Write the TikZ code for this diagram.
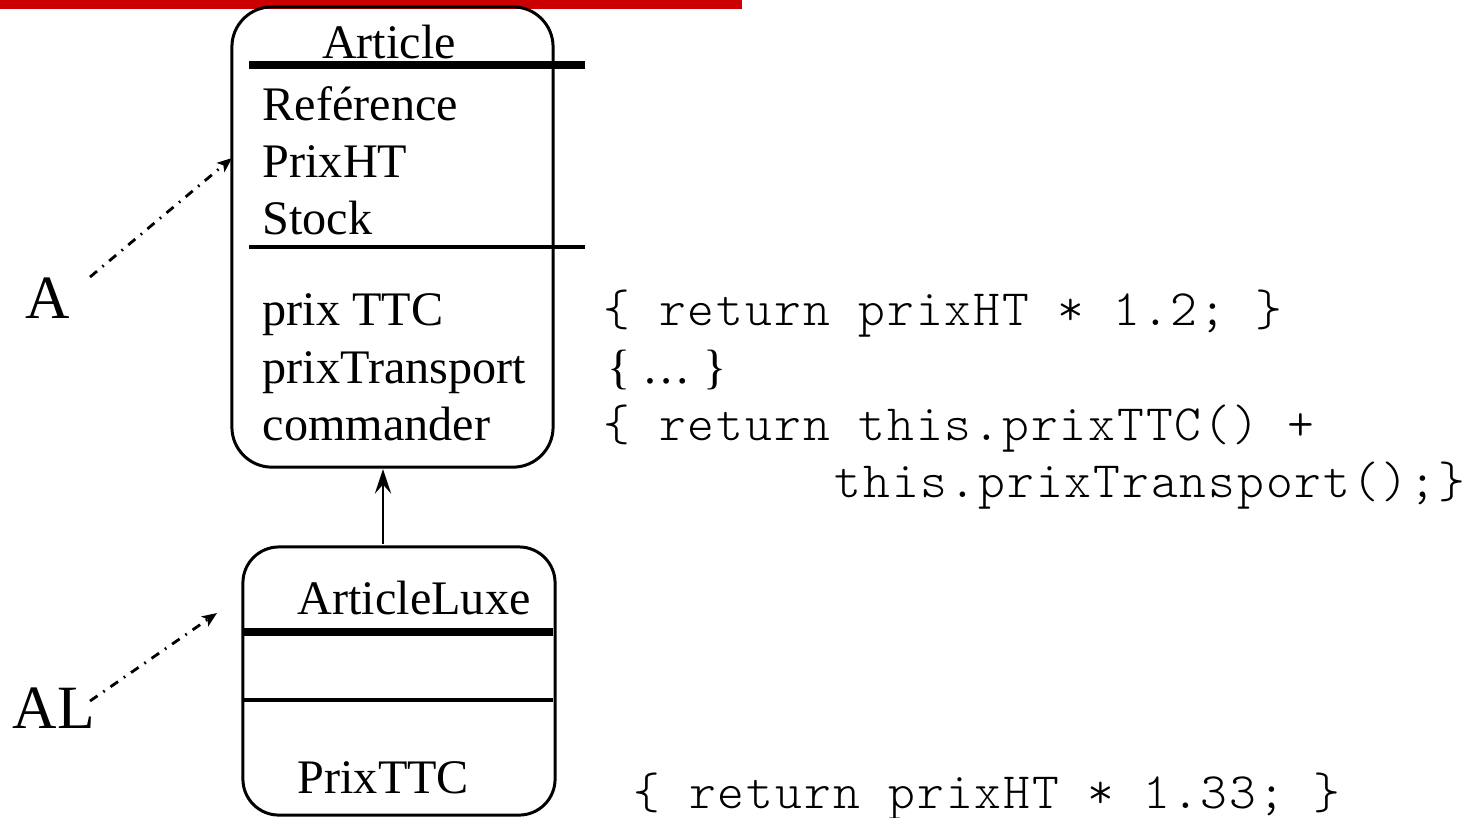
\documentclass[tikz,border=0pt]{standalone}
\usepackage{fontspec}
\setmainfont{Liberation Serif}
\newfontfamily\codefont[LetterSpace=3.9]{Latin Modern Mono Light}
\usetikzlibrary{arrows.meta}
\definecolor{barred}{HTML}{CC0000}
\begin{document}
\begin{tikzpicture}[x=0.01cm,y=-0.01cm,
  classbox/.style={draw, line width=0.85pt, inner sep=0pt},
  txt/.style={font=\fontsize{13.7}{16}\selectfont, anchor=base west, inner sep=0pt},
  code/.style={font=\fontsize{14.5}{17}\selectfont\codefont, anchor=base west, inner sep=0pt},
  biglabel/.style={font=\fontsize{17.5}{20}\selectfont, anchor=base west, inner sep=0pt},
  thicksep/.style={line width=2.5pt},
  thinsep/.style={line width=1.4pt},
  inherit/.style={line width=0.7pt, -{Stealth[length=7pt,width=4.6pt,inset=2.6pt]}},
  refarrow/.style={line width=0.8pt, dash pattern=on 2.6pt off 2pt on 0.5pt off 2pt,
                   -{Stealth[length=4.2pt,width=3.4pt,inset=1pt]}}]
\useasboundingbox (0,0) rectangle (1481,817);

% title bar
\fill[barred] (0,0) rectangle (742,9);

% class Article
\node[classbox, rounded corners=0.4cm, minimum width=3.21cm, minimum height=4.6cm]
  (article) at (392.5,237) {};
\draw[thicksep] (249,65) -- (585,65);
\draw[thinsep] (249,247) -- (585,247);
\node[txt, anchor=base] (artname) at (389,58) {Article};
\node[txt] (aref)   at (262,120) {Reférence};
\node[txt] (aprix)  at (262,177) {PrixHT};
\node[txt] (astock) at (262,234) {Stock};
\node[txt] (attc)   at (262,325) {prix TTC};
\node[txt] (atrans) at (262,383) {prixTransport};
\node[txt] (acmd)   at (262,440) {commander};

% method bodies of Article
\node[code] (bttc)   at (603,325) {\{ return prixHT * 1.2; \}};
\node[txt]  (btrans) at (607,383) {\{ … \}};
\node[code] (bcmd1)  at (603,440) {\{ return this.prixTTC() +};
\node[code] (bcmd2)  at (834,497) {this.prixTransport();\}};

% class ArticleLuxe
\node[classbox, rounded corners=0.36cm, minimum width=3.12cm, minimum height=2.68cm]
  (luxe) at (399,681) {};
\draw[thicksep] (243,632) -- (553,632);
\draw[thinsep] (243,700) -- (553,700);
\node[txt] (luxname) at (297,614) {ArticleLuxe};
\node[txt] (lttc)    at (297,793) {PrixTTC};
\node[code] (blttc)  at (633,808) {\{ return prixHT * 1.33; \}};

% inheritance
\coordinate (inhfrom) at (383,544);
\coordinate (inhto)   at (383,469);
\draw[inherit] (inhfrom) -- (inhto);

% references
\node[biglabel] (Alab)  at (25,318) {A};
\node[biglabel] (ALlab) at (12,728) {AL};
\coordinate (Afrom)  at (90,277);
\coordinate (Ato)    at (232,158);
\coordinate (ALfrom) at (90,701);
\coordinate (ALto)   at (217,613);
\draw[refarrow] (Afrom) -- (Ato);
\draw[refarrow] (ALfrom) -- (ALto);
\end{tikzpicture}
\end{document}
